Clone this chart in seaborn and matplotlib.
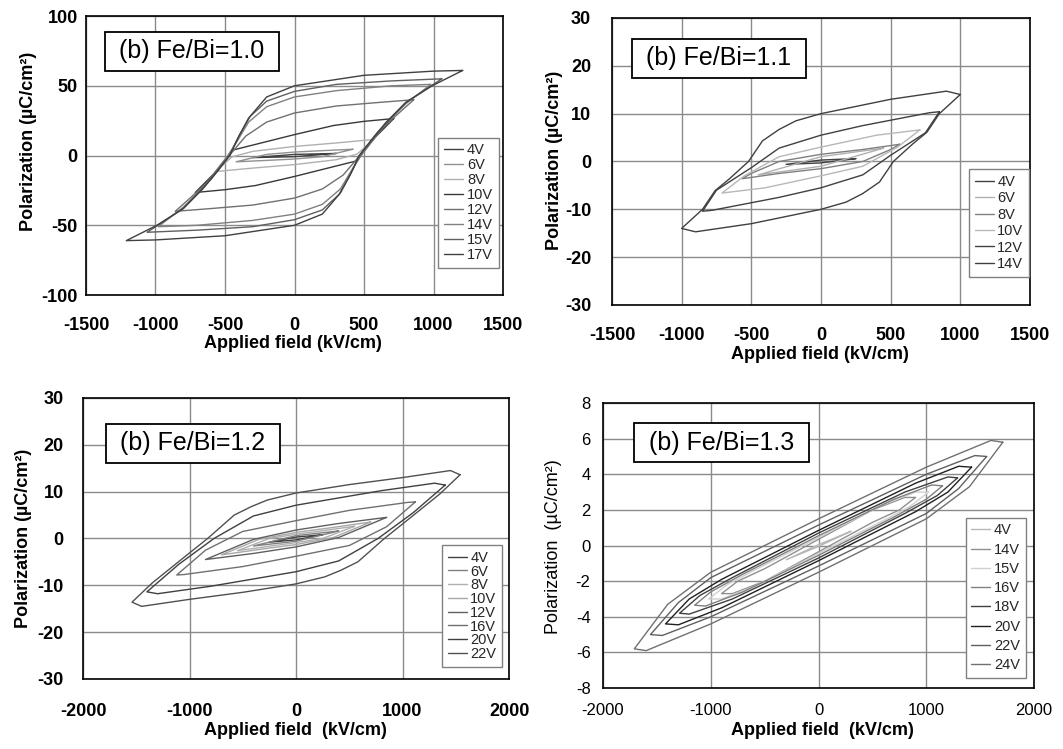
import numpy as np
import pandas as pd
import matplotlib
matplotlib.use("Agg")
import matplotlib.pyplot as plt
import seaborn as sns

# ============================================================
# DATA: upper branch of each P-E loop (from +Emax down to -Emax)
# the lower branch is the point-reflection of the upper branch
# ============================================================

# Fe/Bi = 1.0
fe10_volts = ["4V", "6V", "8V", "10V", "12V", "14V", "15V", "17V"]
fe10_colors = ["#404040", "#909090", "#b0b0b0", "#383838", "#707070", "#808080", "#606060", "#404040"]
fe10_field = [
    [300, 0, -300],
    [420, 200, 0, -200, -420],
    [570, 300, 0, -300, -450, -570],
    [714, 500, 280, 0, -200, -440, -560, -714],
    [858, 600, 300, 0, -200, -350, -470, -600, -858],
    [980, 700, 300, 0, -200, -330, -420, -480, -650, -800, -980],
    [1060, 700, 300, 0, -200, -330, -420, -470, -650, -800, -1060],
    [1210, 1000, 500, 0, -200, -320, -400, -465, -560, -660, -800, -990, -1210],
]
fe10_pol = [
    [1.5, 0.8, -1.5],
    [4.5, 3.5, 2.5, 0.8, -4.5],
    [11.5, 9, 6.5, 3, -1, -11.5],
    [26.5, 24.5, 21.5, 15, 10, 4, -11, -26.5],
    [40, 38, 35.5, 30.5, 24, 14, 0, -17, -40],
    [51, 50, 46.5, 42, 35, 24, 9, 0, -22, -37, -51],
    [55, 53.5, 51, 46, 39, 27, 10, 0, -22, -38, -55],
    [61, 60.5, 57.5, 50, 42, 28, 14, 0, -12, -24, -38, -50, -61],
]

# Fe/Bi = 1.1
fe11_volts = ["4V", "6V", "8V", "10V", "12V", "14V"]
fe11_colors = ["#404040", "#b0b0b0", "#808080", "#b8b8b8", "#404040", "#404040"]
fe11_field = [
    [250, 0, -250],
    [450, 0, -450],
    [565, 300, 0, -300, -500, -565],
    [710, 400, 0, -300, -550, -710],
    [850, 780, 300, 0, -300, -500, -750, -850],
    [1000, 900, 500, 0, -180, -300, -420, -520, -660, -760, -850, -1000],
]
fe11_pol = [
    [0.6, 0.3, -0.6],
    [2.8, 1.0, -2.8],
    [3.6, 2.5, 1.5, 0, -2.5, -3.6],
    [6.6, 5.5, 3.0, 1, -3, -6.6],
    [10.4, 10.2, 7.5, 5.5, 2.8, -1.3, -6, -10.4],
    [14, 14.7, 13, 10, 8.5, 6.7, 4.3, 0, -3.7, -6.1, -10, -14],
]

# Fe/Bi = 1.2
fe12_volts = ["4V", "6V", "8V", "10V", "12V", "16V", "20V", "22V"]
fe12_colors = ["#404040", "#808080", "#b0b0b0", "#a8a8a8", "#606060", "#707070", "#404040", "#505050"]
fe12_field = [
    [250, 0, -250],
    [400, 0, -400],
    [550, 200, 0, -250, -550],
    [700, 300, 0, -350, -700],
    [850, 400, 0, -400, -850],
    [1120, 1050, 500, 0, -500, -850, -1120],
    [1400, 1300, 800, 0, -400, -770, -1100, -1400],
    [1540, 1450, 1000, 500, 0, -270, -420, -580, -830, -1050, -1350, -1540],
]
fe12_pol = [
    [0.8, 0.3, -0.8],
    [1.6, 0.6, -1.6],
    [2.6, 1.5, 0.9, 0, -2.6],
    [3.5, 2.2, 1.3, -0.2, -3.5],
    [4.5, 3.2, 1.8, -0.2, -4.5],
    [7.8, 7.7, 6, 3.8, 1.5, -2.5, -7.8],
    [11.4, 11.8, 10.2, 7.1, 4.8, 0, -5.5, -11.4],
    [13.6, 14.5, 13, 11.5, 9.7, 8.2, 6.8, 5, 0, -4, -9.5, -13.6],
]

# Fe/Bi = 1.3
fe13_volts = ["4V", "14V", "15V", "16V", "18V", "20V", "22V", "24V"]
fe13_colors = ["#b8b8b8", "#909090", "#d0d0d0", "#808080", "#404040", "#202020", "#606060", "#707070"]
fe13_field = [
    [300, 0, -300],
    [900, 800, 500, 0, -500, -750, -900],
    [1020, 900, 600, 0, -600, -850, -1020],
    [1150, 1050, 700, 0, -700, -1000, -1150],
    [1290, 1200, 800, 0, -800, -1100, -1290],
    [1420, 1300, 900, 0, -900, -1200, -1420],
    [1560, 1450, 1000, 0, -1000, -1300, -1560],
    [1710, 1600, 1000, 0, -1000, -1400, -1710],
]
fe13_pol = [
    [0.8, 0.05, -0.8],
    [2.7, 2.7, 2.0, 0.35, -1.3, -2.0, -2.7],
    [3.0, 3.0, 2.3, 0.45, -1.4, -2.2, -3.0],
    [3.35, 3.4, 2.6, 0.55, -1.6, -2.6, -3.35],
    [3.8, 3.85, 3.0, 0.7, -1.8, -2.8, -3.8],
    [4.4, 4.45, 3.5, 0.85, -1.9, -3.0, -4.4],
    [5.0, 5.05, 4.0, 1.15, -1.8, -3.2, -5.0],
    [5.8, 5.9, 4.4, 1.5, -1.5, -3.3, -5.8],
]


def build_loops(volts, field, pol):
    rows = []
    for v, e_up, p_up in zip(volts, field, pol):
        e_loop = list(e_up) + [-e for e in e_up]
        p_loop = list(p_up) + [-p for p in p_up]
        for i, (e, p) in enumerate(zip(e_loop, p_loop)):
            rows.append({"volt": v, "order": i, "E": e, "P": p})
    return pd.DataFrame(rows)


# ============================================================
# STYLE
# ============================================================
sns.set_style("white")
plt.rcParams["font.family"] = ["Liberation Sans", "DejaVu Sans"]
plt.rcParams["axes.unicode_minus"] = False

fig = plt.figure(figsize=(10.63, 7.49), dpi=100)

panels = [
    dict(title="(b) Fe/Bi=1.0", volts=fe10_volts, colors=fe10_colors, field=fe10_field, pol=fe10_pol,
         rect=[0.0809, 0.6061, 0.3923, 0.3725], xlim=(-1500, 1500), xstep=500, ylim=(-100, 100), ystep=50,
         box=(0.254, 0.873), leg=(0.990, 0.097), bold=True, xpad=16, ypad=6,
         xlab="Applied field (kV/cm)", ylab="Polarization (µC/cm²)",
         xlab_pos=(0.496, -0.143), ylab_pos=(-0.1175, 0.552), row=17),
    dict(title="(b) Fe/Bi=1.1", volts=fe11_volts, colors=fe11_colors, field=fe11_field, pol=fe11_pol,
         rect=[0.5757, 0.5928, 0.3932, 0.3832], xlim=(-1500, 1500), xstep=500, ylim=(-30, 30), ystep=10,
         box=(0.256, 0.859), leg=(0.998, 0.098), bold=True, xpad=16, ypad=15,
         xlab="Applied field (kV/cm)", ylab="Polarization (µC/cm²)",
         xlab_pos=(0.498, -0.142), ylab_pos=(-0.117, 0.503), row=18.5),
    dict(title="(b) Fe/Bi=1.2", volts=fe12_volts, colors=fe12_colors, field=fe12_field, pol=fe12_pol,
         rect=[0.0781, 0.0935, 0.4008, 0.3752], xlim=(-2000, 2000), xstep=1000, ylim=(-30, 30), ystep=10,
         box=(0.258, 0.838), leg=(0.984, 0.043), bold=True, xpad=17, ypad=14,
         xlab="Applied field  (kV/cm)", ylab="Polarization (µC/cm²)",
         xlab_pos=(0.498, -0.153), ylab_pos=(-0.12, 0.502), row=15.8),
    dict(title="(b) Fe/Bi=1.3", volts=fe13_volts, colors=fe13_colors, field=fe13_field, pol=fe13_pol,
         rect=[0.5673, 0.0814, 0.4055, 0.3805], xlim=(-2000, 2000), xstep=1000, ylim=(-8, 8), ystep=2,
         box=(0.275, 0.861), leg=(0.981, 0.035), bold=False, xpad=11, ypad=9,
         xlab="Applied field  (kV/cm)", ylab="Polarization  (µC/cm²)",
         xlab_pos=(0.51, -0.12), ylab_pos=(-0.095, 0.496), row=21.3),
]

for p in panels:
    ax = fig.add_axes(p["rect"])
    df = build_loops(p["volts"], p["field"], p["pol"])

    for v, c in zip(p["volts"], p["colors"]):
        sub = df[df["volt"] == v]
        sns.lineplot(data=sub, x="E", y="P", sort=False, estimator=None,
                     color=c, linewidth=1.0, label=v, ax=ax)

    xlim, ylim = p["xlim"], p["ylim"]
    ax.set_xlim(*xlim)
    ax.set_ylim(*ylim)
    ax.set_xticks(np.arange(xlim[0], xlim[1] + 1, p["xstep"]))
    ax.set_yticks(np.arange(ylim[0], ylim[1] + 0.01, p["ystep"]))
    ax.grid(True, color="#8a8a8a", linewidth=1.0)
    ax.set_axisbelow(True)
    for s in ax.spines.values():
        s.set_color("black")
        s.set_linewidth(1.2)

    weight = "bold" if p["bold"] else "normal"
    tick_size = 13 if p["bold"] else 12
    ax.tick_params(axis="x", length=0, pad=p["xpad"])
    ax.tick_params(axis="y", length=0, pad=p["ypad"])
    for lab in ax.get_xticklabels() + ax.get_yticklabels():
        lab.set_fontweight(weight)
        lab.set_fontsize(tick_size)
        lab.set_color("black")

    ax.set_xlabel(p["xlab"], fontsize=13, fontweight="bold", color="black")
    ax.set_ylabel(p["ylab"], fontsize=13, fontweight=weight, color="black")
    ax.xaxis.set_label_coords(*p["xlab_pos"])
    ax.yaxis.set_label_coords(*p["ylab_pos"])

    ax.text(p["box"][0], p["box"][1], " " + p["title"] + " ", transform=ax.transAxes,
            ha="center", va="center", fontsize=18, color="black",
            bbox=dict(boxstyle="square,pad=0.3", fc="white", ec="black", lw=1.3))

    leg = ax.legend(loc="lower right", bbox_to_anchor=p["leg"], fontsize=10.5,
                    frameon=True, fancybox=False, edgecolor="#808080",
                    framealpha=1, handlelength=1.3, handletextpad=0.25,
                    labelspacing=(p["row"] / 1.389 - 10.5 * 1.1) / 10.5,
                    borderpad=0.4, borderaxespad=0)
    leg.get_frame().set_linewidth(1.0)

plt.savefig("out.png", dpi=100)
